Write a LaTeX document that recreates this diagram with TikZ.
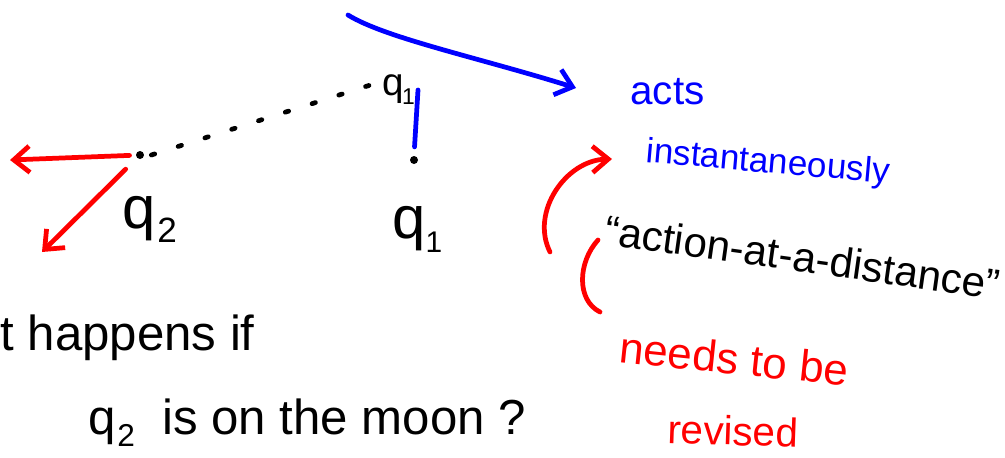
\documentclass[tikz,border=0pt]{standalone}
\usepackage{fontspec}
\setmainfont{Liberation Sans}
\usetikzlibrary{arrows.meta}
\newcommand\fsz[1]{\fontsize{#1}{#1}\selectfont}
\newcommand\qsub[3]{q\kern#3\raisebox{-0.25em}{\fsz{#2}#1}}
\begin{document}
\begin{tikzpicture}[x=0.02cm,y=-0.02cm,
  pen/.style={line width=2.7pt,line cap=round,line join=round},
  barb/.style={-{Straight Barb[length=9pt,width=15pt]}},
  hand/.style={inner sep=0pt,anchor=base west},
  chargedot/.style={circle,fill=black,inner sep=0pt,minimum size=0.16cm},
  dotline/.style={line width=2.7pt,line cap=round,dash pattern=on 2pt off 14pt}]
\useasboundingbox (0,0) rectangle (1005,457);

% charges
\node[chargedot] (q1dot) at (414,160) {};
\node[chargedot] (q2dot) at (140,155) {};
\node[hand,font=\fsz{22}] (q1top) at (382,95) {\qsub{1}{13}{-1pt}};
\node[hand,font=\fsz{34}] (q2lab) at (122,228) {\qsub{2}{20}{1pt}};
\node[hand,font=\fsz{34}] (q1lab) at (392,238) {\qsub{1}{17}{0pt}};

% dotted separation
\draw[dotline] ([xshift=4pt]q2dot.east) -- ([xshift=-2pt,yshift=4pt]q1top.west);

% blue line and arrow
\coordinate (bltop) at (418,90);
\draw[blue,pen,shorten >=5pt] (bltop) -- (q1dot.north);
\coordinate (bs) at (348,15);
\coordinate (be) at (576,88);
\draw[blue,pen,barb] (bs) .. controls (385,38) and (480,58) .. (be);

% red force arrows
\coordinate (rl) at (10,160);
\coordinate (rd) at (42,252);
\draw[red,pen,barb,shorten <=3.5pt] (q2dot) -- (rl);
\draw[red,pen,barb,shorten <=9pt] (q2dot) -- (rd);

% blue text
\node[hand,blue,font=\fsz{23}] (acts) at (630,104) {acts};
\node[hand,blue,font=\fsz{20},rotate=-5] (inst) at (645,162) {instantaneously};

% black quoted text
\node[hand,font=\fsz{24},rotate=-8] (aad) at (603,244) {“action-at-a-distance”};

% red curved arrow and bracket
\coordinate (rcs) at (550,252);
\coordinate (rce) at (612,159);
\draw[red,pen,barb] (rcs) .. controls (530,212) and (566,160) .. (rce);
\draw[red,pen] (598,240) .. controls (578,262) and (576,300) .. (600,312);

% red text
\node[hand,red,font=\fsz{25},rotate=-6] (needs) at (618,362) {needs to be};
\node[hand,red,font=\fsz{23},rotate=-2] (revised) at (667,443) {revised};

% bottom question
\node[hand,font=\fsz{28}] (what) at (0,350) {t happens if};
\node[hand,font=\fsz{28}] (moon) at (88,434) {\qsub{2}{18}{1pt}\ \ is on the moon ?};
\end{tikzpicture}
\end{document}
